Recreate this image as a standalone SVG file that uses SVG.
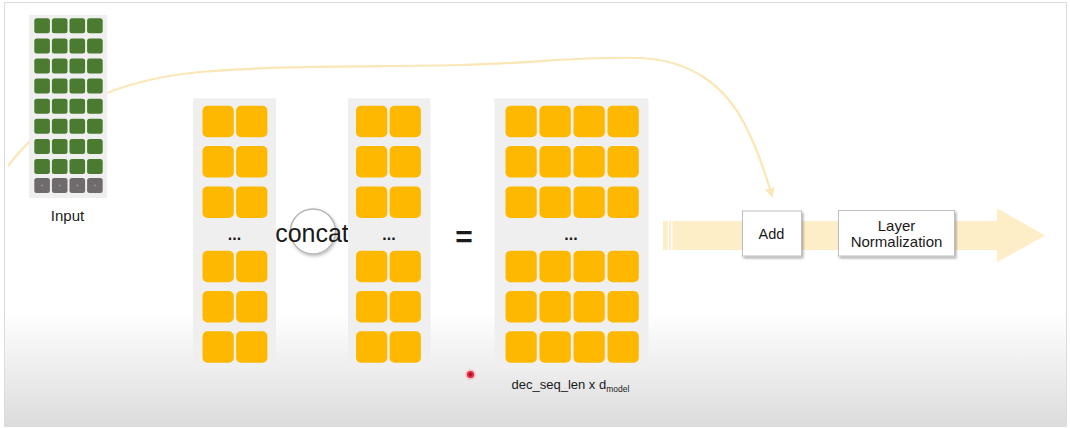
<svg xmlns="http://www.w3.org/2000/svg" width="1070" height="428" viewBox="0 0 1070 428">
<style>
  .t{font-family:"Liberation Sans","Noto Sans",Arial,sans-serif;fill:#1a1a1a}
  .panel{fill:#efefef}
  .oc{fill:#ffb800}
  .gc{fill:#4a7b30}
  .xc{fill:#6f6b6d}
  .box{fill:#ffffff;stroke:#bfbfbf;stroke-width:1}
  .pale{fill:#fdeec8}
</style>
<defs>
  <linearGradient id="bg" x1="0" y1="0" x2="0" y2="1">
    <stop offset="0" stop-color="#ffffff"/>
    <stop offset="0.73" stop-color="#ffffff"/>
    <stop offset="1" stop-color="#dcdcdc"/>
  </linearGradient>
  <filter id="sh" x="-20%" y="-20%" width="150%" height="150%">
    <feDropShadow dx="1.5" dy="2" stdDeviation="1.2" flood-color="#000" flood-opacity="0.3"/>
  </filter>
  <filter id="csh" x="-30%" y="-30%" width="160%" height="160%">
    <feDropShadow dx="1" dy="1.5" stdDeviation="1.5" flood-color="#000" flood-opacity="0.25"/>
  </filter>
  <rect id="o" width="31.3" height="31.5" rx="5" class="oc"/>
  <rect id="g" width="15.6" height="15" rx="2.5" class="gc"/>
  <g id="x"><rect width="15.6" height="15" rx="2.5" class="xc"/><circle cx="7.8" cy="7.5" r="0.9" fill="#9a9698"/></g>
  <g id="o2"><use href="#o" x="0"/><use href="#o" x="33.6"/></g>
  <g id="o4"><use href="#o" x="0"/><use href="#o" x="34"/><use href="#o" x="68"/><use href="#o" x="102"/></g>
  <g id="g4"><use href="#g" x="0"/><use href="#g" x="17.6"/><use href="#g" x="35.2"/><use href="#g" x="52.8"/></g>
  <marker id="ah" viewBox="0 0 10 10" refX="8" refY="5" markerWidth="4.5" markerHeight="4.5" orient="auto">
    <path d="M0 0 L10 5 L0 10 z" fill="#fbe6b5"/>
  </marker>
</defs>

<rect x="4.5" y="2.5" width="1062" height="424" fill="url(#bg)" stroke="#dcdcdc" stroke-width="1"/>

<g id="connectors">
  <path d="M 8 166 C 35 130, 90 82, 200 72 C 280 65, 380 67, 460 65 C 540 63, 580 56, 640 58 C 690 60, 725 85, 745 125 C 758 150, 766 175, 772 196" fill="none" stroke="#fbe6b5" stroke-width="2.2" marker-end="url(#ah)"/>
  <rect x="663" y="221" width="335" height="29" class="pale"/>
  <rect x="667.8" y="221" width="1.2" height="29" fill="#ffffff"/>
  <rect x="671.2" y="221" width="1.2" height="29" fill="#ffffff"/>
  <polygon points="997,208.3 1045,235.5 997,262.3" class="pale"/>
</g>

<g id="input">
  <rect x="29" y="15" width="78" height="183" class="panel"/>
  <use href="#g4" x="34.3" y="18.3"/>
  <use href="#g4" x="34.3" y="38.4"/>
  <use href="#g4" x="34.3" y="58.5"/>
  <use href="#g4" x="34.3" y="78.6"/>
  <use href="#g4" x="34.3" y="98.7"/>
  <use href="#g4" x="34.3" y="118.8"/>
  <use href="#g4" x="34.3" y="138.9"/>
  <use href="#g4" x="34.3" y="159"/>
  <g>
    <use href="#x" x="34.3" y="178"/><use href="#x" x="51.9" y="178"/><use href="#x" x="69.5" y="178"/><use href="#x" x="87.1" y="178"/>
  </g>
  <text class="t" x="67.5" y="220.5" font-size="15" text-anchor="middle">Input</text>
</g>

<g id="head-left">
  <rect x="193" y="98.3" width="83" height="270" class="panel"/>
  <use href="#o2" x="202.5" y="105.7"/>
  <use href="#o2" x="202.5" y="146"/>
  <use href="#o2" x="202.5" y="186.4"/>
  <text class="t" x="234.5" y="239.5" font-size="16" font-weight="bold" text-anchor="middle">...</text>
  <use href="#o2" x="202.5" y="250.8"/>
  <use href="#o2" x="202.5" y="291"/>
  <use href="#o2" x="202.5" y="331.3"/>
</g>

<g id="concat">
  <circle cx="313" cy="231.5" r="22.5" fill="#ffffff" stroke="#b5b5b5" stroke-width="1.5" filter="url(#csh)"/>
  <text class="t" x="312" y="241.5" font-size="25" text-anchor="middle" fill="#111">concat</text>
</g>

<g id="head-right">
  <rect x="348" y="98.3" width="82.5" height="270" class="panel"/>
  <use href="#o2" x="356" y="105.7"/>
  <use href="#o2" x="356" y="146"/>
  <use href="#o2" x="356" y="186.4"/>
  <text class="t" x="389" y="239.5" font-size="16" font-weight="bold" text-anchor="middle">...</text>
  <use href="#o2" x="356" y="250.8"/>
  <use href="#o2" x="356" y="291"/>
  <use href="#o2" x="356" y="331.3"/>
</g>

<g id="equals">
  <text class="t" x="464" y="247" font-size="30" font-weight="bold" text-anchor="middle" fill="#111">=</text>
</g>

<g id="result">
  <rect x="494.5" y="98.3" width="154" height="270" class="panel"/>
  <use href="#o4" x="505.5" y="105.7"/>
  <use href="#o4" x="505.5" y="146"/>
  <use href="#o4" x="505.5" y="186.4"/>
  <text class="t" x="571" y="239.5" font-size="16" font-weight="bold" text-anchor="middle">...</text>
  <use href="#o4" x="505.5" y="250.8"/>
  <use href="#o4" x="505.5" y="291"/>
  <use href="#o4" x="505.5" y="331.3"/>
  <text class="t" x="511.5" y="389" font-size="13">dec_seq_len x d<tspan font-size="8.5" dy="3">model</tspan></text>
</g>

<g id="add">
  <rect x="742.5" y="211" width="59" height="45" class="box" filter="url(#sh)"/>
  <text class="t" x="771.5" y="239.3" font-size="14.5" text-anchor="middle">Add</text>
</g>

<g id="layernorm">
  <rect x="838.5" y="210.5" width="116" height="45.5" class="box" filter="url(#sh)"/>
  <text class="t" x="896.5" y="231" font-size="15" text-anchor="middle">Layer</text>
  <text class="t" x="896.5" y="246.7" font-size="15" text-anchor="middle">Normalization</text>
</g>

<g id="pointer">
  <circle cx="470.5" cy="374.5" r="5.5" fill="#f7b9c0" opacity="0.7"/>
  <circle cx="470.5" cy="374.5" r="3.6" fill="#e3283c"/>
  <circle cx="470.5" cy="374.5" r="1.3" fill="#8e0818"/>
</g>
</svg>
